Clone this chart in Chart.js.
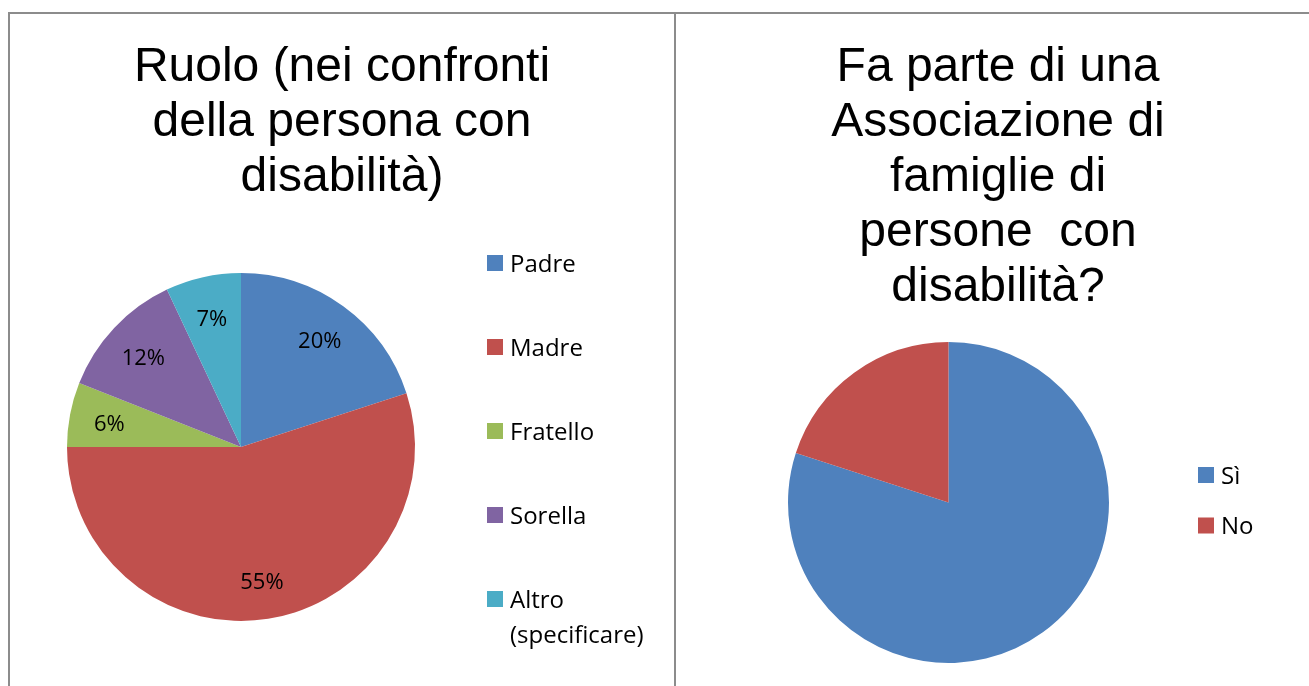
<!DOCTYPE html>
<html lang="it">
<head>
<meta charset="utf-8">
<title>Ruolo / Associazione</title>
<script src="https://cdn.jsdelivr.net/npm/chart.js@4.4.1/dist/chart.umd.min.js"></script>
<style>
  html, body { margin: 0; padding: 0; background: #fff; width: 1309px; height: 686px; overflow: hidden; }
  #frame { position: absolute; left: 8px; top: 12px; width: 1301px; height: 674px;
           border-left: 2px solid #8c8c8c; border-top: 2px solid #8c8c8c; }
  #divider { position: absolute; left: 674px; top: 12px; width: 2px; height: 674px; background: #8c8c8c; }
  canvas { position: absolute; }
  #roleChart { left: 10px; top: 14px; }
  #assocChart { left: 676px; top: 14px; }
</style>
</head>
<body>
<div id="frame"></div>
<div id="divider"></div>
<canvas id="roleChart" width="664" height="672"></canvas>
<canvas id="assocChart" width="633" height="672"></canvas>

<script>
// --- Data ---
const roleTitle = ["Ruolo (nei confronti", "della persona con", "disabilità)"];
const roleLabels = ["Padre", "Madre", "Fratello", "Sorella", "Altro (specificare)"];
const roleValues = [20, 55, 6, 12, 7];
const roleColors = ["#4F81BD", "#C0504D", "#9BBB59", "#8064A2", "#4BACC6"];

const assocTitle = ["Fa parte di una", "Associazione di", "famiglie di", "persone  con", "disabilità?"];
const assocLabels = ["Sì", "No"];
const assocValues = [80, 20];
const assocColors = ["#4F81BD", "#C0504D"];

const TITLE_FONT = "48px 'Liberation Sans', Arial, sans-serif";
const BODY_FONT = "'Open Sans', 'Liberation Sans', sans-serif";

// --- Title, percentage labels and legend drawn onto each chart ---
function wrapWords(ctx, text, maxWidth) {
  const words = text.split(" ");
  const lines = [];
  let line = "";
  words.forEach((w) => {
    const test = line ? line + " " + w : w;
    if (line && ctx.measureText(test).width > maxWidth) {
      lines.push(line);
      line = w;
    } else {
      line = test;
    }
  });
  if (line) lines.push(line);
  return lines;
}

const panelText = {
  id: "panelText",
  afterDraw(chart, args, opts) {
    const ctx = chart.ctx;
    const data = chart.data.datasets[0];
    ctx.save();
    ctx.fillStyle = "#000";

    // title
    ctx.font = TITLE_FONT;
    ctx.textAlign = "center";
    ctx.textBaseline = "alphabetic";
    opts.title.forEach((line, i) => ctx.fillText(line, opts.titleX, opts.titleY + i * 55));

    // percentage labels
    if (opts.showValues) {
      const total = data.data.reduce((a, b) => a + b, 0);
      ctx.font = "22px " + BODY_FONT;
      ctx.textBaseline = "middle";
      chart.getDatasetMeta(0).data.forEach((arc, i) => {
        const p = arc.getProps(["x", "y", "startAngle", "endAngle", "outerRadius"], true);
        const mid = (p.startAngle + p.endAngle) / 2;
        const r = p.outerRadius * opts.labelRadius;
        const pct = Math.round((data.data[i] / total) * 100) + "%";
        ctx.fillText(pct, p.x + Math.cos(mid) * r, p.y + Math.sin(mid) * r + 3);
      });
    }

    // legend
    ctx.font = "24px " + BODY_FONT;
    ctx.textAlign = "left";
    ctx.textBaseline = "middle";
    chart.data.labels.forEach((label, i) => {
      const cy = opts.legendY + i * opts.legendStep;
      ctx.fillStyle = data.backgroundColor[i];
      ctx.fillRect(opts.legendX, cy - 8, 16, 16);
      ctx.fillStyle = "#000";
      wrapWords(ctx, label, 150).forEach((line, j) => {
        ctx.fillText(line, opts.legendX + 23, cy + 2 + j * 35);
      });
    });
    ctx.restore();
  },
};

function makePie(canvasId, labels, values, colors, padding, textOpts) {
  return new Chart(document.getElementById(canvasId), {
    type: "pie",
    data: {
      labels: labels,
      datasets: [{
        data: values,
        backgroundColor: colors,
        borderWidth: 0,
      }],
    },
    options: {
      responsive: false,
      animation: false,
      events: [],
      layout: { padding: padding },
      plugins: {
        legend: { display: false },
        tooltip: { enabled: false },
        title: { display: false },
        panelText: textOpts,
      },
    },
    plugins: [panelText],
  });
}

makePie("roleChart", roleLabels, roleValues, roleColors,
  { left: 57, top: 259, right: 259, bottom: 65 },
  { title: roleTitle, titleX: 332, titleY: 67, showValues: true, labelRadius: 0.77,
    legendX: 477, legendY: 249, legendStep: 84 });

makePie("assocChart", assocLabels, assocValues, assocColors,
  { left: 112, top: 328, right: 200, bottom: 23 },
  { title: assocTitle, titleX: 322, titleY: 67, showValues: false,
    legendX: 522, legendY: 461, legendStep: 50.5 });
</script>
</body>
</html>
